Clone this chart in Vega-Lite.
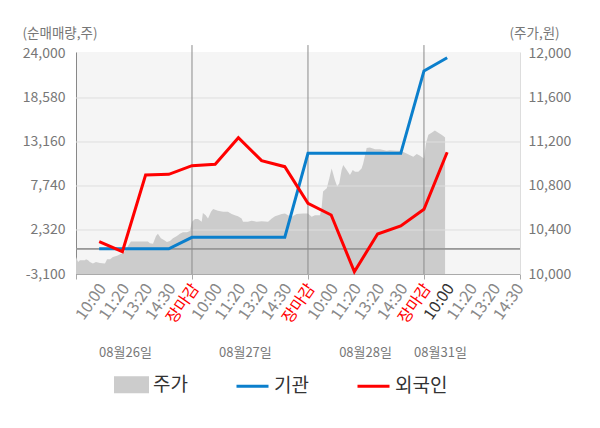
{
  "$schema": "https://vega.github.io/schema/vega-lite/v6.json",
  "width": 444,
  "height": 222,
  "autosize": {"type": "none"},
  "padding": {"left": 76, "top": 52, "right": 80, "bottom": 154},
  "datasets": {
    "price": [
      {"i": 0, "price": 10155}, {"i": 0.09, "price": 10110}, {"i": 0.17, "price": 10125}, {"i": 0.39, "price": 10125},
      {"i": 0.43, "price": 10135}, {"i": 0.52, "price": 10125}, {"i": 0.6, "price": 10110}, {"i": 0.73, "price": 10095},
      {"i": 0.86, "price": 10110}, {"i": 1.03, "price": 10100}, {"i": 1.25, "price": 10095}, {"i": 1.34, "price": 10135},
      {"i": 1.47, "price": 10135}, {"i": 1.59, "price": 10155}, {"i": 1.77, "price": 10165}, {"i": 1.9, "price": 10180},
      {"i": 2.03, "price": 10190}, {"i": 2.16, "price": 10220}, {"i": 2.24, "price": 10255}, {"i": 2.37, "price": 10295},
      {"i": 3.1, "price": 10295}, {"i": 3.19, "price": 10280}, {"i": 3.32, "price": 10275}, {"i": 3.45, "price": 10345},
      {"i": 3.53, "price": 10365}, {"i": 3.66, "price": 10325}, {"i": 3.79, "price": 10310}, {"i": 3.92, "price": 10290},
      {"i": 4.05, "price": 10300}, {"i": 4.18, "price": 10325}, {"i": 4.35, "price": 10345}, {"i": 4.48, "price": 10365},
      {"i": 4.61, "price": 10380}, {"i": 4.78, "price": 10380}, {"i": 4.91, "price": 10390}, {"i": 5.0, "price": 10475},
      {"i": 5.13, "price": 10500}, {"i": 5.26, "price": 10500}, {"i": 5.42, "price": 10475}, {"i": 5.47, "price": 10555},
      {"i": 5.59, "price": 10535}, {"i": 5.69, "price": 10505}, {"i": 5.82, "price": 10565}, {"i": 5.91, "price": 10590},
      {"i": 6.12, "price": 10575}, {"i": 6.34, "price": 10565}, {"i": 6.55, "price": 10565}, {"i": 6.71, "price": 10545},
      {"i": 6.85, "price": 10535}, {"i": 6.98, "price": 10525}, {"i": 7.14, "price": 10505}, {"i": 7.2, "price": 10475},
      {"i": 7.41, "price": 10475}, {"i": 7.57, "price": 10485}, {"i": 7.79, "price": 10475}, {"i": 8.0, "price": 10480},
      {"i": 8.28, "price": 10475}, {"i": 8.44, "price": 10505}, {"i": 8.58, "price": 10525}, {"i": 8.71, "price": 10535},
      {"i": 8.87, "price": 10545}, {"i": 9.01, "price": 10550}, {"i": 9.14, "price": 10535}, {"i": 9.3, "price": 10520},
      {"i": 9.51, "price": 10545}, {"i": 9.78, "price": 10550}, {"i": 10.0, "price": 10550}, {"i": 10.16, "price": 10520},
      {"i": 10.3, "price": 10535}, {"i": 10.52, "price": 10535}, {"i": 10.59, "price": 10610}, {"i": 10.65, "price": 10750},
      {"i": 10.81, "price": 10780}, {"i": 10.92, "price": 10870}, {"i": 11.02, "price": 10960}, {"i": 11.08, "price": 10915},
      {"i": 11.16, "price": 10855}, {"i": 11.26, "price": 10795}, {"i": 11.35, "price": 10825}, {"i": 11.45, "price": 10945},
      {"i": 11.52, "price": 10990}, {"i": 11.67, "price": 10945}, {"i": 11.81, "price": 10900}, {"i": 11.93, "price": 10945},
      {"i": 12.03, "price": 10930}, {"i": 12.17, "price": 10930}, {"i": 12.31, "price": 10960}, {"i": 12.38, "price": 11005},
      {"i": 12.46, "price": 11080}, {"i": 12.53, "price": 11145}, {"i": 12.67, "price": 11150}, {"i": 12.89, "price": 11135},
      {"i": 13.1, "price": 11135}, {"i": 13.39, "price": 11120}, {"i": 13.53, "price": 11125}, {"i": 13.82, "price": 11120},
      {"i": 13.97, "price": 11120}, {"i": 14.11, "price": 11110}, {"i": 14.25, "price": 11095}, {"i": 14.4, "price": 11080},
      {"i": 14.54, "price": 11065}, {"i": 14.69, "price": 11090}, {"i": 14.83, "price": 11075}, {"i": 15.0, "price": 11050},
      {"i": 15.09, "price": 11190}, {"i": 15.19, "price": 11265}, {"i": 15.33, "price": 11285}, {"i": 15.47, "price": 11305},
      {"i": 15.62, "price": 11285}, {"i": 15.76, "price": 11265}, {"i": 15.86, "price": 11250}, {"i": 15.91, "price": 11240}
    ],
    "flow": [
      {"i": 1, "inst": 0, "foreign": 880},
      {"i": 2, "inst": 0, "foreign": -350},
      {"i": 3, "inst": 0, "foreign": 9100},
      {"i": 4, "inst": 0, "foreign": 9180},
      {"i": 5, "inst": 1420, "foreign": 10240},
      {"i": 6, "inst": 1420, "foreign": 10410},
      {"i": 7, "inst": 1420, "foreign": 13690},
      {"i": 8, "inst": 1420, "foreign": 10860},
      {"i": 9, "inst": 1420, "foreign": 10120},
      {"i": 10, "inst": 11770, "foreign": 5610},
      {"i": 11, "inst": 11770, "foreign": 4170},
      {"i": 12, "inst": 11770, "foreign": -2820},
      {"i": 13, "inst": 11770, "foreign": 1830},
      {"i": 14, "inst": 11770, "foreign": 2810},
      {"i": 15, "inst": 21910, "foreign": 4870},
      {"i": 16, "inst": 23540, "foreign": 11890}
    ],
    "days": [{"i": 5}, {"i": 10}, {"i": 15}],
    "grid": [{"v": 2320}, {"v": 7740}, {"v": 13160}, {"v": 18580}]
  },
  "layer": [
    {
      "data": {"name": "price"},
      "mark": {"type": "area", "interpolate": "linear"},
      "encoding": {
        "x": {
          "field": "i", "type": "quantitative",
          "scale": {"domain": [0, 19.14], "nice": false, "zero": false},
          "axis": {
            "orient": "bottom", "values": [0, 5, 10, 15, 19.14], "labels": false, "ticks": true, "tickSize": 5,
            "tickColor": "#aaaaaa", "domainColor": "#aaaaaa", "grid": false, "title": null
          }
        },
        "y": {
          "field": "price", "type": "quantitative",
          "scale": {"domain": [10000, 12018], "nice": false, "zero": false},
          "axis": {
            "orient": "right", "values": [10000, 10400, 10800, 11200, 11600, 12000],
            "labelExpr": "format(datum.value, ',')",
            "labelFontSize": 14, "labelColor": "#777777", "ticks": false, "labelPadding": 8,
            "domainColor": "#dddddd", "grid": false,
            "title": "(주가,원)", "titleAngle": 0, "titleX": -11, "titleY": -19,
            "titleAlign": "left", "titleBaseline": "middle", "titleFontSize": 13.5,
            "titleFontWeight": "normal", "titleColor": "#777777"
          }
        },
        "y2": {"datum": 10000},
        "color": {
          "datum": "주가",
          "scale": {"domain": ["주가", "기관", "외국인"], "range": ["#cccccc", "#0b7fcc", "#ff0000"]},
          "legend": {
            "orient": "none", "legendX": 38, "legendY": 315, "direction": "horizontal", "title": null,
            "padding": 0, "labelFontSize": 19, "labelColor": "#333333", "labelOffset": 4,
            "symbolSize": 1024, "columnPadding": 42,
            "encode": {
              "symbols": {
                "update": {
                  "shape": {"signal": "datum.label === '주가' ? 'M-1,-0.44H1V0.44H-1Z' : 'M-1,0H1'"},
                  "fill": {"signal": "datum.label === '주가' ? '#cccccc' : 'transparent'"},
                  "stroke": {"signal": "datum.label === '주가' ? 'transparent' : (datum.label === '기관' ? '#0b7fcc' : '#ff0000')"},
                  "strokeWidth": {"value": 3},
                  "opacity": {"value": 1}
                }
              }
            }
          }
        }
      }
    },
    {
      "data": {"name": "grid"},
      "mark": {"type": "rule", "color": "#dedede", "strokeWidth": 1},
      "encoding": {
        "y": {
          "field": "v", "type": "quantitative",
          "scale": {"domain": [-3100, 24246], "nice": false, "zero": false},
          "axis": {
            "orient": "left",
            "values": [-3100, 2320, 7740, 13160, 18580, 24000],
            "labelExpr": "datum.value < 0 ? '-' + format(-datum.value, ',') : format(datum.value, ',')",
            "labelFontSize": 14, "labelColor": "#777777", "ticks": false, "labelPadding": 11,
            "domainColor": "#888888", "grid": false,
            "title": "(순매매량,주)", "titleAngle": 0, "titleX": -54, "titleY": -19,
            "titleAlign": "left", "titleBaseline": "middle", "titleFontSize": 13.5,
            "titleFontWeight": "normal", "titleColor": "#777777"
          }
        }
      }
    },
    {
      "data": {"name": "grid"},
      "mark": {"type": "rule", "color": "#999999", "strokeWidth": 1},
      "encoding": {
        "y": {
          "datum": 0, "type": "quantitative",
          "scale": {"domain": [-3100, 24246], "nice": false, "zero": false},
          "axis": null
        }
      }
    },
    {
      "data": {"name": "days"},
      "mark": {"type": "rule", "color": "#8a8a8a", "strokeWidth": 1},
      "encoding": {
        "x": {"field": "i", "type": "quantitative", "axis": null},
        "y": {
          "datum": -3100, "type": "quantitative",
          "scale": {"domain": [-3100, 24246], "nice": false, "zero": false},
          "axis": null
        },
        "y2": {"datum": 25100}
      }
    },
    {
      "data": {"name": "flow"},
      "mark": {"type": "line", "strokeWidth": 3},
      "encoding": {
        "x": {
          "field": "i", "type": "quantitative",
          "axis": {
            "orient": "bottom",
            "values": [1, 2, 3, 4, 5, 6, 7, 8, 9, 10, 11, 12, 13, 14, 15, 16, 17, 18, 19],
            "labelExpr": "datum.value % 5 == 0 ? '장마감' : ['10:00', '11:20', '13:20', '14:30'][(datum.value % 5) - 1]",
            "labelAngle": -55, "labelFontSize": 16,
            "labelColor": {
              "condition": [
                {"test": "datum.value % 5 == 0", "value": "#ff0000"},
                {"test": "datum.value == 16", "value": "#333333"}
              ],
              "value": "#888888"
            },
            "labelAlign": "right", "labelBaseline": "middle", "labelPadding": 11, "labelOffset": 3,
            "ticks": false, "domain": false, "grid": false, "title": null,
            "labelOverlap": false, "labelFlush": false
          }
        },
        "y": {
          "field": "inst", "type": "quantitative",
          "scale": {"domain": [-3100, 24246], "nice": false, "zero": false},
          "axis": null
        },
        "color": {"datum": "기관"}
      }
    },
    {
      "data": {"name": "flow"},
      "mark": {"type": "line", "strokeWidth": 3},
      "encoding": {
        "x": {
          "field": "i", "type": "quantitative",
          "axis": {
            "orient": "bottom",
            "values": [2.11, 7.28, 12.46, 15.69],
            "labelExpr": "datum.value < 5 ? '08월26일' : datum.value < 10 ? '08월27일' : datum.value < 15 ? '08월28일' : '08월31일'",
            "labelAngle": 0, "labelFontSize": 13, "labelColor": "#777777",
            "ticks": false, "domain": false, "grid": false, "offset": 72, "labelPadding": 0,
            "labelBaseline": "top", "title": null, "labelOverlap": false, "labelFlush": false
          }
        },
        "y": {
          "field": "foreign", "type": "quantitative",
          "scale": {"domain": [-3100, 24246], "nice": false, "zero": false},
          "axis": null
        },
        "color": {"datum": "외국인"}
      }
    }
  ],
  "resolve": {"scale": {"y": "independent"}, "axis": {"x": "independent"}},
  "config": {
    "font": "Noto Sans CJK KR",
    "view": {"stroke": null, "fill": "#f5f5f5"},
    "axis": {"labelFont": "Noto Sans CJK KR", "titleFont": "Noto Sans CJK KR"},
    "legend": {"labelFont": "Noto Sans CJK KR"}
  }
}
